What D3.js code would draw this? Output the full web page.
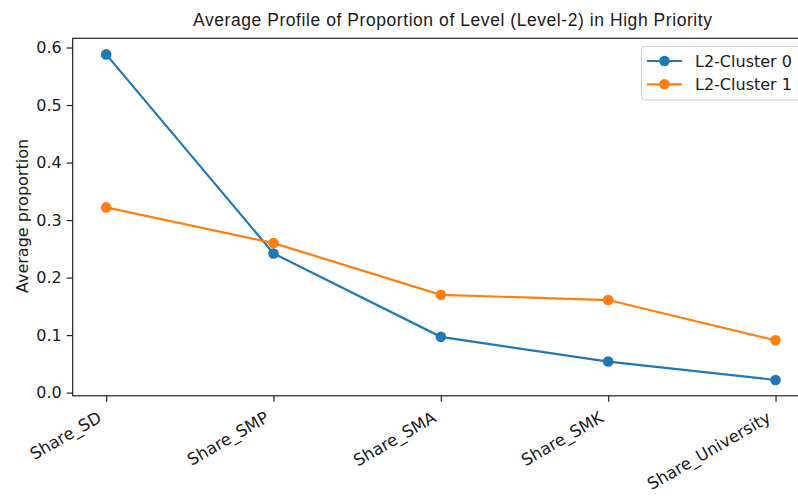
<!DOCTYPE html>
<html><head><meta charset="utf-8">
<script src="https://cdn.jsdelivr.net/npm/d3@7"></script>
<style>body{margin:0;background:#fff}</style>
</head><body>
<svg id="c" width="798" height="497"></svg>
<script>
const categories = ["Share_SD","Share_SMP","Share_SMA","Share_SMK","Share_University"];
const cluster0 = [0.588,0.242,0.097,0.054,0.022];
const cluster1 = [0.322,0.260,0.170,0.161,0.091];
const seriesNames = ["L2-Cluster 0","L2-Cluster 1"];
const colors = ["#1f77b4","#ff7f0e"];
const yTicks = [0,0.1,0.2,0.3,0.4,0.5,0.6];

const svg = d3.select("#c");
const L=72.7, T=38.3, B=395.8, R=809;
const x = d3.scaleLinear().domain([-0.2, 4.2]).range([L, R]);
const y = d3.scaleLinear().domain([-0.0055, 0.616]).range([B, T]);

const font = "DejaVu Sans, sans-serif";
const fs = 16;

// y axis
const ya = svg.append("g").attr("transform",`translate(${L},0)`)
  .call(d3.axisLeft(y).tickValues(yTicks).tickFormat(d3.format(".1f")).tickSize(6).tickPadding(5));
ya.select(".domain").remove();
ya.selectAll("text").attr("font-family",font).attr("font-size",fs).attr("fill","#1a1a1a");
ya.selectAll("line").attr("stroke","#222").attr("stroke-width",1.2);

// x axis
const xa = svg.append("g").attr("transform",`translate(0,${B})`)
  .call(d3.axisBottom(x).tickValues(d3.range(categories.length)).tickFormat(i=>categories[i]).tickSize(6));
xa.select(".domain").remove();
xa.selectAll("line").attr("stroke","#222").attr("stroke-width",1.2);
xa.selectAll("text").attr("font-family",font).attr("font-size",16.5).attr("fill","#1a1a1a")
  .attr("text-anchor","end").attr("x",0).attr("y",0).attr("dy",null)
  .attr("transform","translate(-4,25) rotate(-30)");

// frame
svg.append("rect").attr("x",L).attr("y",T).attr("width",R-L).attr("height",B-T)
  .attr("fill","none").attr("stroke","#222").attr("stroke-width",1.2);

// lines
[cluster0, cluster1].forEach((data,k)=>{
  const line = d3.line().x((d,i)=>x(i)).y(d=>y(d));
  svg.append("path").datum(data).attr("d",line).attr("fill","none")
    .attr("stroke",colors[k]).attr("stroke-width",2.2);
  svg.selectAll(null).data(data).enter().append("circle")
    .attr("cx",(d,i)=>x(i)).attr("cy",d=>y(d)).attr("r",5.3).attr("fill",colors[k]);
});

// title
svg.append("text").attr("x",452.5).attr("y",26).attr("text-anchor","middle")
  .attr("font-family","Liberation Sans, Arial, sans-serif").attr("font-size",17.5).attr("fill","#1a1a1a")
  .attr("textLength",519).attr("lengthAdjust","spacing")
  .text("Average Profile of Proportion of Level (Level-2) in High Priority");

// y label
svg.append("text").attr("transform","translate(28,216) rotate(-90)").attr("text-anchor","middle")
  .attr("font-family",font).attr("font-size",fs).attr("fill","#1a1a1a").text("Average proportion");

// legend
const lg = svg.append("g");
lg.append("rect").attr("x",641.5).attr("y",46.5).attr("width",170).attr("height",53.5).attr("rx",3)
  .attr("fill","#fff").attr("fill-opacity",0.8).attr("stroke","#d0d0d0");
seriesNames.forEach((n,k)=>{
  const yy = 61 + k*23.3;
  lg.append("line").attr("x1",647).attr("x2",682).attr("y1",yy).attr("y2",yy).attr("stroke",colors[k]).attr("stroke-width",2.2);
  lg.append("circle").attr("cx",664.5).attr("cy",yy).attr("r",5.3).attr("fill",colors[k]);
  lg.append("text").attr("x",695).attr("y",yy).attr("dy","0.36em").attr("font-family",font)
    .attr("font-size",fs).attr("fill","#1a1a1a").text(n);
});
</script>
</body></html>
